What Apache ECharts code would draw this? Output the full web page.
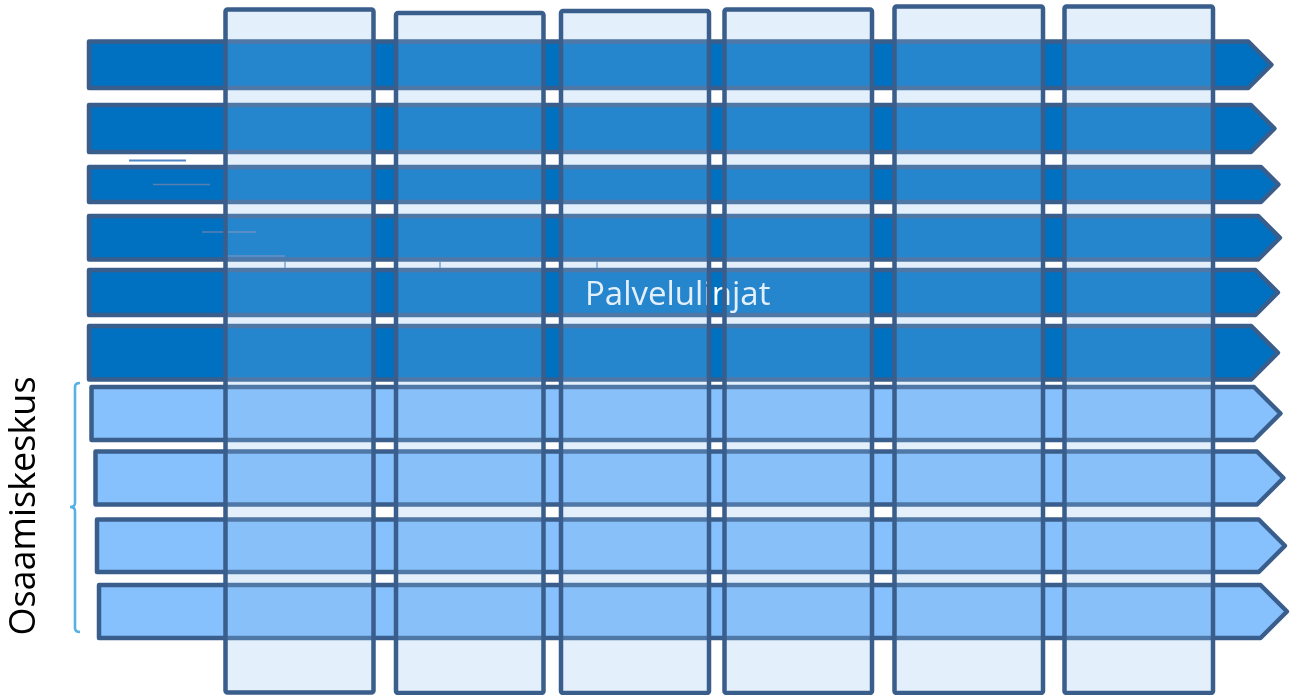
<!DOCTYPE html>
<html>
<head>
<meta charset="utf-8">
<script src="https://cdn.jsdelivr.net/npm/echarts@6/dist/echarts.min.js"></script>
<style>
html,body{margin:0;padding:0;background:#fff;}
#chart{width:1294px;height:695px;}
</style>
</head>
<body>
<div id="chart"></div>
<script>
// ---- data (diagram coordinates in axis units) ----
const rowKind   = ['line','line','line','line','line','line','centre','centre','centre','centre'];
const rowStart  = [89, 89, 89, 89, 89, 89, 91.5, 95.5, 97, 99];
const rowTop    = [41.5, 105, 167, 216, 270, 326, 387, 451.5, 519.5, 585];
const rowBottom = [88, 152, 202, 259.5, 315, 379.5, 440, 504.5, 572, 638];
const rowTip    = [1271.5, 1274.5, 1278.5, 1280, 1278, 1278, 1280.5, 1283.5, 1285, 1287];

const colLeft   = [225.5, 396, 561, 724.5, 894.5, 1064.5];
const colRight  = [373.5, 543.5, 709, 872, 1043, 1213];
const colTop    = [9.5, 13, 11, 9.5, 6.5, 6.5];
const colBottom = [692.5, 693, 693, 693, 693, 693];

const labels = ['Palvelulinjat', 'Osaamiskeskus'];
const labelX = [585, 25];
const labelY = [295.5, 506];

const strokeX1 = [129, 153, 202, 226];
const strokeX2 = [186, 210, 256, 285];
const strokeY  = [160.5, 184.5, 232, 256];
const tickX    = [285, 440, 597];

const braceX = [75, 80, 70];
const braceY = [383, 507, 632];

// ---- chart ----
const chart = echarts.init(document.getElementById('chart'), null, {renderer: 'canvas'});
const border = '#3a5e8c';
const fills = {line: '#0070c0', centre: '#86c1fd'};

function rowsRender(params, api) {
  const i = params.dataIndex;
  const p0 = api.coord([rowStart[i], rowTop[i]]);
  const p1 = api.coord([rowTip[i], rowBottom[i]]);
  const h = p1[1] - p0[1];
  const shoulder = p1[0] - h / 2;
  const midY = (p0[1] + p1[1]) / 2;
  return {
    type: 'polygon',
    shape: {points: [[p0[0], p0[1]], [shoulder, p0[1]], [p1[0], midY], [shoulder, p1[1]], [p0[0], p1[1]]]},
    style: {fill: fills[rowKind[i]], stroke: border, lineWidth: 4.5, lineJoin: 'round'}
  };
}

function colsRender(params, api) {
  const i = params.dataIndex;
  const a = api.coord([colLeft[i], colTop[i]]);
  const b = api.coord([colRight[i], colBottom[i]]);
  return {
    type: 'rect',
    shape: {x: a[0], y: a[1], width: b[0] - a[0], height: b[1] - a[1], r: 2},
    style: {fill: 'rgba(145,196,243,0.255)', stroke: border, lineWidth: 4.5}
  };
}

function strokesRender(params, api) {
  const i = params.dataIndex;
  const a = api.coord([strokeX1[i], strokeY[i]]);
  const b = api.coord([strokeX2[i], strokeY[i]]);
  return {
    type: 'line',
    shape: {x1: a[0], y1: a[1], x2: b[0], y2: b[1]},
    style: {stroke: i === 0 ? '#4f86c8' : '#5a80b2', lineWidth: i === 0 ? 2 : 1.6}
  };
}

function ticksRender(params, api) {
  const i = params.dataIndex;
  const a = api.coord([tickX[i], 262]);
  const b = api.coord([tickX[i], 268]);
  return {
    type: 'line',
    shape: {x1: a[0], y1: a[1], x2: b[0], y2: b[1]},
    style: {stroke: '#6f97c8', lineWidth: 1.5}
  };
}

function braceRender(params, api) {
  const t = api.coord([braceX[1], braceY[0]]);
  const m = api.coord([braceX[0], braceY[0]]);
  const mid = api.coord([braceX[2], braceY[1]]);
  const bot = api.coord([braceX[0], braceY[2]]);
  const xb = api.coord([braceX[1], braceY[2]]);
  const x = m[0];
  const path = 'M' + t[0] + ' ' + t[1] +
    ' Q' + x + ' ' + t[1] + ' ' + x + ' ' + (t[1] + 4) +
    ' L' + x + ' ' + (mid[1] - 4) +
    ' Q' + x + ' ' + mid[1] + ' ' + mid[0] + ' ' + mid[1] +
    ' Q' + x + ' ' + mid[1] + ' ' + x + ' ' + (mid[1] + 4) +
    ' L' + x + ' ' + (bot[1] - 4) +
    ' Q' + x + ' ' + bot[1] + ' ' + xb[0] + ' ' + bot[1];
  return {
    type: 'path',
    shape: {pathData: path},
    style: {fill: null, stroke: '#57b1e4', lineWidth: 2.6}
  };
}

function labelRender(params, api) {
  const i = params.dataIndex;
  const p = api.coord([labelX[i], labelY[i]]);
  if (i === 0) {
    return {
      type: 'text', x: p[0], y: p[1],
      style: {text: labels[i], fill: '#ffffff', font: '33px "Open Sans"', textAlign: 'left', textVerticalAlign: 'middle'}
    };
  }
  return {
    type: 'text', x: p[0], y: p[1], rotation: Math.PI / 2,
    style: {text: labels[i], fill: '#000000', font: '36px "Open Sans"', textAlign: 'center', textVerticalAlign: 'middle'}
  };
}

const idx = n => Array.from({length: n}, (_, k) => [k]);

chart.setOption({
  animation: false,
  grid: {left: 0, right: 0, top: 0, bottom: 0},
  xAxis: {type: 'value', min: 0, max: 1294, show: false},
  yAxis: {type: 'value', min: 0, max: 695, inverse: true, show: false},
  series: [
    {type: 'custom', renderItem: rowsRender, data: idx(rowStart.length), z: 1, silent: true},
    {type: 'custom', renderItem: strokesRender, data: idx(strokeX1.length), z: 2, silent: true},
    {type: 'custom', renderItem: ticksRender, data: idx(tickX.length), z: 2, silent: true},
    {type: 'custom', renderItem: (p, api) => p.dataIndex === 0 ? labelRender(p, api) : null, data: [[0]], z: 3, silent: true},
    {type: 'custom', renderItem: colsRender, data: idx(colLeft.length), z: 4, silent: true},
    {type: 'custom', renderItem: braceRender, data: [[0]], z: 5, silent: true},
    {type: 'custom', renderItem: (p, api) => labelRender({dataIndex: 1}, api), data: [[0]], z: 5, silent: true}
  ]
});
</script>
</body>
</html>
